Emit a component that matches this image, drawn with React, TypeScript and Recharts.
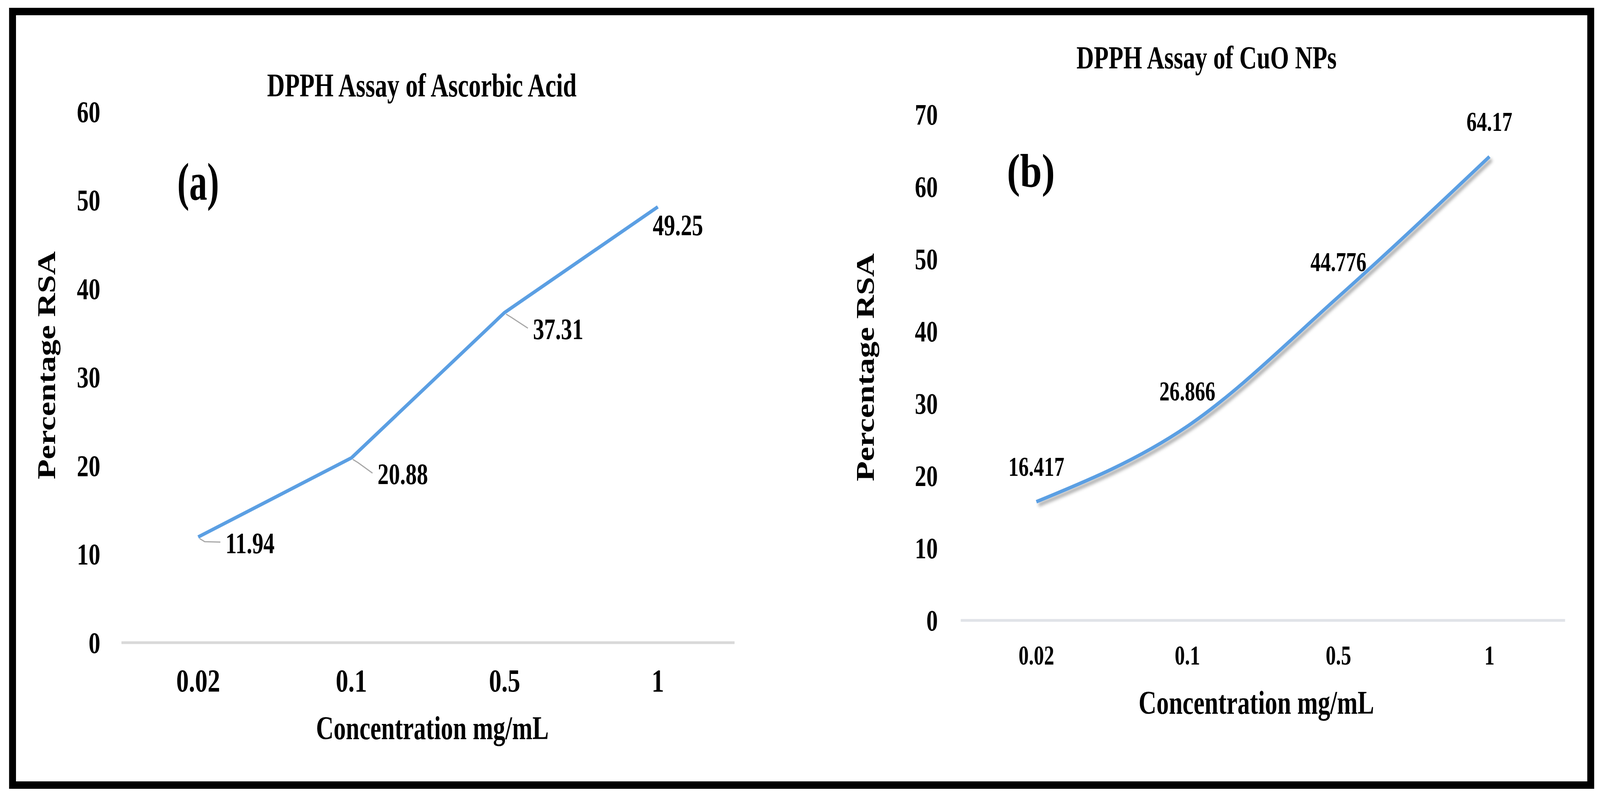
import React from 'react';
import { LineChart, Line, XAxis, YAxis, ReferenceLine } from 'recharts';

// categories + measured values
const concentrations = ['0.02', '0.1', '0.5', '1'];
const ascorbicRsa = [11.94, 20.88, 37.31, 49.25];
const cuoRsa = [16.417, 26.866, 44.776, 64.17];
const ticksA = [0, 10, 20, 30, 40, 50, 60];
const ticksB = [0, 10, 20, 30, 40, 50, 60, 70];

const dataA = concentrations.map((c, i) => ({ conc: c, rsa: ascorbicRsa[i] }));
const dataB = concentrations.map((c, i) => ({ conc: c, rsa: cuoRsa[i] }));

// label placement for panel (a): [dx to text start, dy to text centre]
const labelPosA = [[75, 15], [72, 41], [78, 42], [-14, 47]];

const SERIF = '"Liberation Serif", "Times New Roman", serif';
const BLUE = '#5b9fe3';

// layout is done on a 4400 wide canvas, the viewport is only 4096 wide
const DESIGN_W = 4400;
const VIEW_W = 4096;

// the source picture is squeezed horizontally, so text is drawn narrow
function CText({ x, y, size, sx = 0.8, anchor = 'middle', children }: any) {
  return (
    <text
      transform={`translate(${x},${y}) scale(${sx},1)`}
      textAnchor={anchor}
      fontFamily={SERIF}
      fontSize={size}
      fontWeight={700}
      fill="#000"
    >
      {children}
    </text>
  );
}

const yTick = (dx: number, size: number) => (p: any) => (
  <CText x={p.x + dx} y={p.y + size * 0.34} size={size} sx={0.83} anchor="end">
    {p.payload.value}
  </CText>
);

const xTick = (dy: number, size: number, sx: number) => (p: any) => (
  <CText x={p.x} y={p.y + dy} size={size} sx={sx}>
    {p.payload.value}
  </CText>
);

function labelA(p: any) {
  const { cx, cy, index, payload } = p;
  const [dx, dy] = labelPosA[index];
  return (
    <g key={`la-${index}`}>
      {dx > 0 && (
        <path
          d={`M${cx + 4},${cy + 4} L${cx + 18},${cy + 12} L${cx + dx - 14},${cy + dy - 2}`}
          stroke="#a6a6a6"
          strokeWidth={3}
          fill="none"
        />
      )}
      <CText x={cx + dx} y={cy + dy + 26} size={77} anchor="start">
        {payload.rsa}
      </CText>
    </g>
  );
}

function labelB(p: any) {
  const { cx, cy, index, payload } = p;
  return (
    <g key={`lb-${index}`}>
      <CText x={cx} y={cy - 66} size={70}>
        {payload.rsa}
      </CText>
    </g>
  );
}

export default function App() {
  return (
    <div style={{ position: 'absolute', left: 0, top: 0, width: VIEW_W, height: 2040, overflow: 'hidden', background: '#fff' }}>
      <style>{`.shadow-line .recharts-line-curve { filter: drop-shadow(6px 8px 4px rgba(0,0,0,0.35)); }`}</style>
      <div
        style={{
          position: 'absolute',
          left: 0,
          top: 0,
          width: DESIGN_W,
          height: 2040,
          transform: `scale(${VIEW_W / DESIGN_W},1)`,
          transformOrigin: '0 0',
        }}
      >
        {/* panel (a) */}
        <div style={{ position: 'absolute', left: 0, top: 0 }}>
          <LineChart width={2200} height={2040} data={dataA} margin={{ top: 286, right: 180, bottom: 295, left: 134 }}>
            <XAxis
              dataKey="conc"
              height={100}
              axisLine={false}
              tickLine={false}
              tickSize={0}
              tickMargin={0}
              padding={{ left: 211, right: 211 }}
              interval={0}
              tick={xTick(125, 82, 0.84)}
            />
            <YAxis
              width={200}
              domain={[0, 60]}
              ticks={ticksA}
              interval={0}
              axisLine={false}
              tickLine={false}
              tickSize={0}
              tickMargin={0}
              tick={yTick(-58, 78)}
            />
            <ReferenceLine y={0} stroke="#d9d9d9" strokeWidth={7} />
            <Line
              type="linear"
              dataKey="rsa"
              stroke={BLUE}
              strokeWidth={9}
              strokeLinejoin="round"
              dot={labelA}
              activeDot={false}
              isAnimationActive={false}
            />
          </LineChart>
        </div>

        {/* panel (b) */}
        <div style={{ position: 'absolute', left: 2200, top: 0 }}>
          <LineChart width={2200} height={2040} data={dataB} margin={{ top: 293, right: 96, bottom: 352, left: 242 }}>
            <XAxis
              dataKey="conc"
              height={100}
              axisLine={false}
              tickLine={false}
              tickSize={0}
              tickMargin={0}
              padding={{ left: 208, right: 208 }}
              interval={0}
              tick={xTick(113, 70, 0.8)}
            />
            <YAxis
              width={200}
              domain={[0, 70]}
              ticks={ticksB}
              interval={0}
              axisLine={false}
              tickLine={false}
              tickSize={0}
              tickMargin={0}
              tick={yTick(-63, 76)}
            />
            <ReferenceLine y={0} stroke="#e0e3e8" strokeWidth={7} />
            <Line
              className="shadow-line"
              type="monotone"
              dataKey="rsa"
              stroke={BLUE}
              strokeWidth={9}
              dot={labelB}
              activeDot={false}
              isAnimationActive={false}
            />
          </LineChart>
        </div>

        {/* titles and axis names */}
        <svg width={DESIGN_W} height={2040} style={{ position: 'absolute', left: 0, top: 0, pointerEvents: 'none' }}>
          <CText x={1160} y={247} size={84}>DPPH Assay of Ascorbic Acid</CText>
          <CText x={3318} y={175} size={83}>DPPH Assay of CuO NPs</CText>
          <CText x={545} y={511} size={135} sx={0.73}>(a)</CText>
          <CText x={2835} y={478} size={120} sx={0.9}>(b)</CText>
          <CText x={1189} y={1892} size={84}>Concentration mg/mL</CText>
          <CText x={3455} y={1827} size={85}>Concentration mg/mL</CText>
          <text
            transform="translate(152,935) rotate(-90) scale(1,0.85)"
            textAnchor="middle"
            fontFamily={SERIF}
            fontSize={84}
            fontWeight={700}
          >
            Percentage RSA
          </text>
          <text
            transform="translate(2403,940) rotate(-90) scale(1,0.85)"
            textAnchor="middle"
            fontFamily={SERIF}
            fontSize={84}
            fontWeight={700}
          >
            Percentage RSA
          </text>
        </svg>

        {/* outer frame */}
        <div
          style={{
            position: 'absolute',
            left: 25,
            top: 20,
            width: 4359,
            height: 1999,
            border: '19px solid #000',
            boxSizing: 'border-box',
            pointerEvents: 'none',
          }}
        />
      </div>
    </div>
  );
}
